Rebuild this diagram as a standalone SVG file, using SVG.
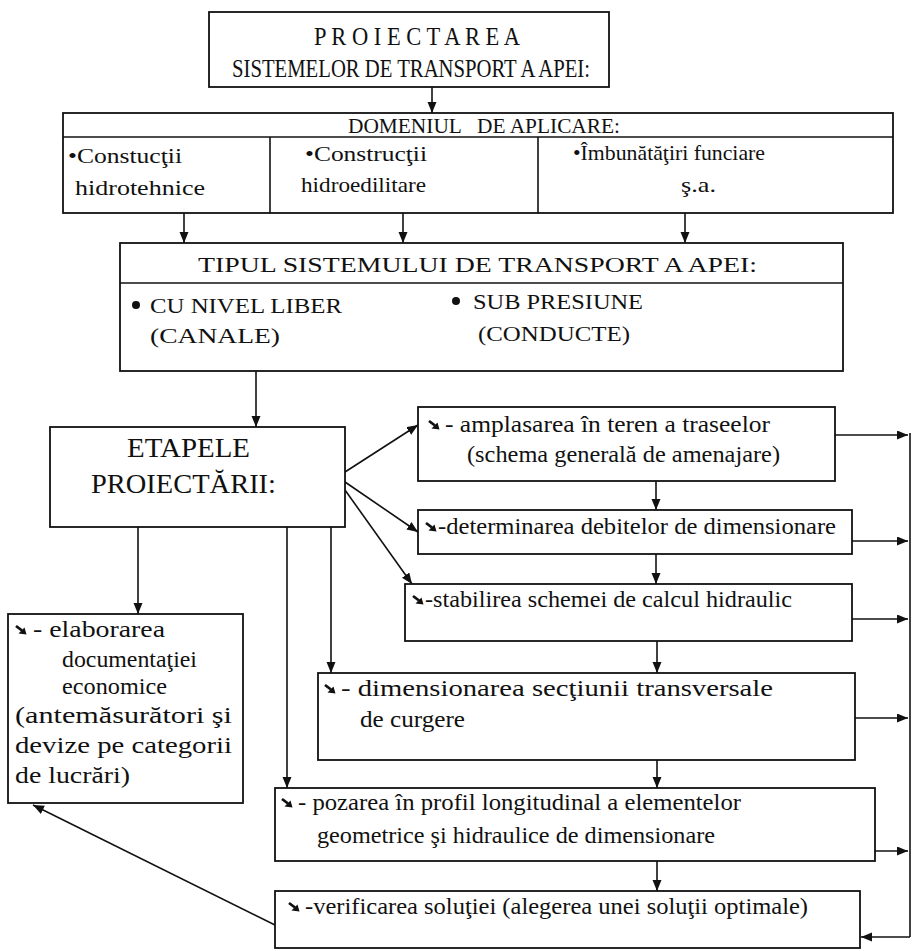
<svg xmlns="http://www.w3.org/2000/svg" xmlns:xlink="http://www.w3.org/1999/xlink" width="912" height="951" viewBox="0 0 912 951">
  <style>
    .box { fill: #ffffff; stroke: #111; stroke-width: 1.8; }
    .rule { stroke: #111; stroke-width: 1.6; fill: none; }
    text { fill: #111; }
    .s20 { font-size: 21px; }
    .s23 { font-size: 24px; }
    .s25 { font-size: 25px; }
    .s26 { font-size: 28px; }
    .link { stroke: #111; stroke-width: 1.6; fill: none; marker-end: url(#head); }
  </style>
  <defs>
    <marker id="head" markerUnits="userSpaceOnUse" markerWidth="12" markerHeight="10" refX="11" refY="4.5" orient="auto">
      <path d="M0,0 L11,4.5 L0,9 z" fill="#111"/>
    </marker>
    <!-- small heavy south-east arrow used as list bullet -->
    <g id="bul">
      <line x1="1" y1="1" x2="7" y2="5.5" stroke="#111" stroke-width="2.8"/>
      <polygon points="11.5,9.5 3.5,8.5 9.5,2.5" fill="#111"/>
    </g>
  </defs>

  <rect width="912" height="951" fill="#ffffff"/>

  <!-- connectors -->
  <g id="connectors">
    <line class="link" x1="432" y1="87" x2="432" y2="113"/>
    <line class="link" x1="184" y1="213" x2="184" y2="243"/>
    <line class="link" x1="403" y1="213" x2="403" y2="243"/>
    <line class="link" x1="685" y1="213" x2="685" y2="243"/>
    <line class="link" x1="256" y1="371" x2="256" y2="427"/>
    <line class="link" x1="345" y1="472" x2="418" y2="425"/>
    <line class="link" x1="345" y1="482" x2="418" y2="532"/>
    <line class="link" x1="345" y1="490" x2="412" y2="584"/>
    <line class="link" x1="138" y1="527" x2="138" y2="614"/>
    <line class="link" x1="287" y1="527" x2="287" y2="788"/>
    <line class="link" x1="331" y1="527" x2="331" y2="673"/>
    <line class="link" x1="656" y1="481" x2="656" y2="510"/>
    <line class="link" x1="656" y1="554" x2="656" y2="584"/>
    <line class="link" x1="657" y1="641" x2="657" y2="673"/>
    <line class="link" x1="657" y1="760" x2="657" y2="788"/>
    <line class="link" x1="657" y1="861" x2="657" y2="891"/>
    <line class="link" x1="835" y1="435" x2="908" y2="435"/>
    <line class="link" x1="852" y1="541" x2="908" y2="541"/>
    <line class="link" x1="852" y1="619" x2="908" y2="619"/>
    <line class="link" x1="855" y1="718" x2="908" y2="718"/>
    <line class="link" x1="875" y1="851" x2="908" y2="851"/>
    <line class="rule" x1="910" y1="433" x2="910" y2="937"/>
    <line class="link" x1="910" y1="937" x2="861" y2="937"/>
    <line class="link" x1="275" y1="925" x2="33" y2="805"/>
  </g>

  <g font-family="'Liberation Serif', 'Times New Roman', 'DejaVu Serif', serif">
  <!-- title -->
  <g id="title">
    <rect class="box" x="209" y="12" width="400" height="75"/>
    <text class="s25" x="314" y="45" textLength="206" lengthAdjust="spacingAndGlyphs">P R O I E C T A R E A</text>
    <text class="s25" x="232" y="77" textLength="358" lengthAdjust="spacingAndGlyphs">SISTEMELOR DE TRANSPORT A APEI:</text>
  </g>

  <!-- field of application -->
  <g id="domeniul">
    <rect class="box" x="63" y="113" width="830" height="100"/>
    <line class="rule" x1="63" y1="137" x2="893" y2="137"/>
    <line class="rule" x1="270" y1="137" x2="270" y2="213"/>
    <line class="rule" x1="538" y1="137" x2="538" y2="213"/>
    <text class="s20" x="348" y="133" textLength="272" lengthAdjust="spacingAndGlyphs" xml:space="preserve">DOMENIUL   DE APLICARE:</text>
    <text class="s20" x="68" y="163" textLength="114" lengthAdjust="spacingAndGlyphs">•Constucţii</text>
    <text class="s20" x="75" y="195" textLength="130" lengthAdjust="spacingAndGlyphs">hidrotehnice</text>
    <text class="s20" x="305" y="161" textLength="122" lengthAdjust="spacingAndGlyphs">•Construcţii</text>
    <text class="s20" x="301" y="192" textLength="125" lengthAdjust="spacingAndGlyphs">hidroedilitare</text>
    <text class="s20" x="573" y="160" textLength="192" lengthAdjust="spacingAndGlyphs">•Îmbunătăţiri funciare</text>
    <text class="s20" x="681" y="192" textLength="35" lengthAdjust="spacingAndGlyphs">ş.a.</text>
  </g>

  <!-- system type -->
  <g id="tipul">
    <rect class="box" x="120" y="243" width="723" height="128"/>
    <line class="rule" x1="120" y1="283" x2="843" y2="283"/>
    <text class="s20" x="198" y="272" textLength="559" lengthAdjust="spacingAndGlyphs">TIPUL SISTEMULUI DE TRANSPORT A APEI:</text>
    <circle cx="136" cy="305" r="4" fill="#111"/>
    <text class="s20" x="150" y="313" textLength="192" lengthAdjust="spacingAndGlyphs">CU NIVEL LIBER</text>
    <text class="s20" x="150" y="343" textLength="130" lengthAdjust="spacingAndGlyphs">(CANALE)</text>
    <circle cx="456" cy="301" r="4" fill="#111"/>
    <text class="s20" x="473" y="309" textLength="170" lengthAdjust="spacingAndGlyphs">SUB PRESIUNE</text>
    <text class="s20" x="478" y="341" textLength="152" lengthAdjust="spacingAndGlyphs">(CONDUCTE)</text>
  </g>

  <!-- design stages -->
  <g id="etapele">
    <rect class="box" x="50" y="427" width="295" height="100"/>
    <text class="s26" x="127" y="457" textLength="123" lengthAdjust="spacingAndGlyphs">ETAPELE</text>
    <text class="s26" x="91" y="493" textLength="185" lengthAdjust="spacingAndGlyphs">PROIECTĂRII:</text>
  </g>

  <g id="amplasarea">
    <rect class="box" x="418" y="407" width="417" height="74"/>
    <use xlink:href="#bul" x="428" y="420"/>
    <text class="s23" x="445" y="432" textLength="325" lengthAdjust="spacingAndGlyphs">- amplasarea în teren a traseelor</text>
    <text class="s23" x="467" y="462" textLength="313" lengthAdjust="spacingAndGlyphs">(schema generală de amenajare)</text>
  </g>

  <g id="determinarea">
    <rect class="box" x="418" y="510" width="434" height="44"/>
    <use xlink:href="#bul" x="425" y="522"/>
    <text class="s23" x="438" y="534" textLength="398" lengthAdjust="spacingAndGlyphs">-determinarea debitelor de dimensionare</text>
  </g>

  <g id="stabilirea">
    <rect class="box" x="405" y="584" width="447" height="57"/>
    <use xlink:href="#bul" x="412" y="595"/>
    <text class="s23" x="425" y="607" textLength="367" lengthAdjust="spacingAndGlyphs">-stabilirea schemei de calcul hidraulic</text>
  </g>

  <g id="dimensionarea">
    <rect class="box" x="318" y="673" width="537" height="87"/>
    <use xlink:href="#bul" x="324" y="684"/>
    <text class="s23" x="341" y="696" textLength="432" lengthAdjust="spacingAndGlyphs">- dimensionarea secţiunii transversale</text>
    <text class="s23" x="360" y="727" textLength="105" lengthAdjust="spacingAndGlyphs">de curgere</text>
  </g>

  <g id="pozarea">
    <rect class="box" x="275" y="788" width="600" height="73"/>
    <use xlink:href="#bul" x="281" y="798"/>
    <text class="s23" x="298" y="810" textLength="443" lengthAdjust="spacingAndGlyphs">- pozarea în profil longitudinal a elementelor</text>
    <text class="s23" x="317" y="843" textLength="398" lengthAdjust="spacingAndGlyphs">geometrice şi hidraulice de dimensionare</text>
  </g>

  <g id="verificarea">
    <rect class="box" x="275" y="891" width="585" height="57"/>
    <use xlink:href="#bul" x="288" y="902"/>
    <text class="s23" x="305" y="914" textLength="503" lengthAdjust="spacingAndGlyphs">-verificarea soluţiei (alegerea unei soluţii optimale)</text>
  </g>

  <g id="elaborarea">
    <rect class="box" x="8" y="614" width="235" height="189"/>
    <use xlink:href="#bul" x="15" y="625"/>
    <text class="s23" x="33" y="637" textLength="132" lengthAdjust="spacingAndGlyphs">- elaborarea</text>
    <text class="s23" x="62" y="667" textLength="135" lengthAdjust="spacingAndGlyphs">documentaţiei</text>
    <text class="s23" x="62" y="694" textLength="105" lengthAdjust="spacingAndGlyphs">economice</text>
    <text class="s23" x="15" y="723" textLength="217" lengthAdjust="spacingAndGlyphs">(antemăsurători şi</text>
    <text class="s23" x="15" y="753" textLength="217" lengthAdjust="spacingAndGlyphs">devize pe categorii</text>
    <text class="s23" x="15" y="783" textLength="115" lengthAdjust="spacingAndGlyphs">de lucrări)</text>
  </g>
  </g>
</svg>
